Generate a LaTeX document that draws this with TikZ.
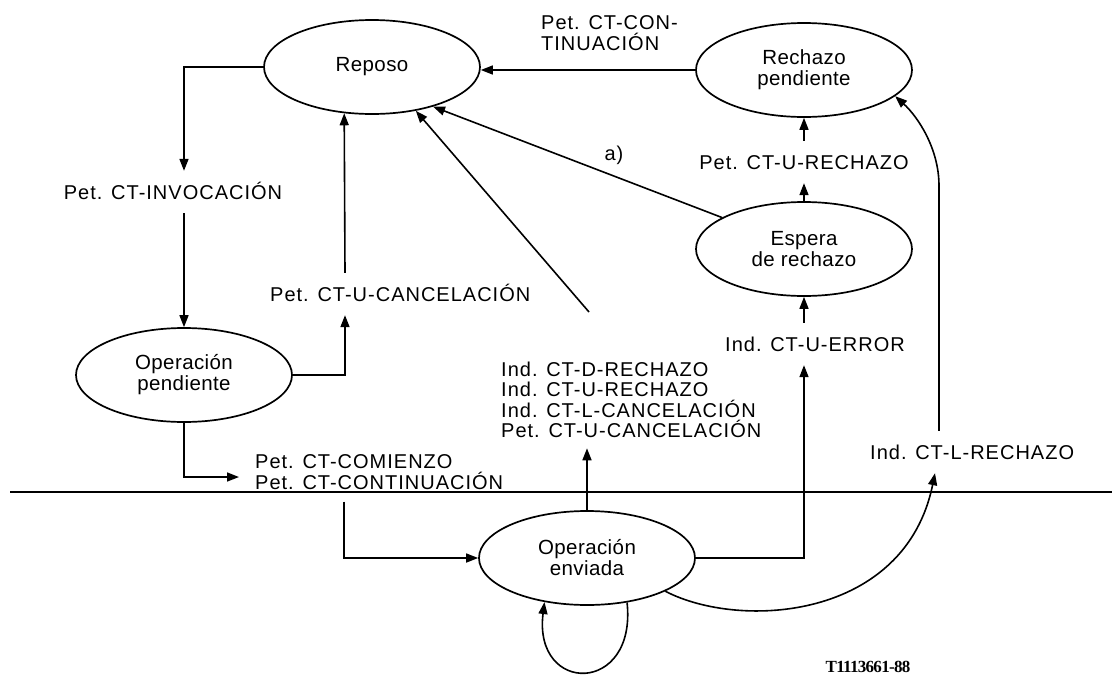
\documentclass[tikz,border=0pt]{standalone}
\usepackage{fontspec}
\setmainfont{Liberation Sans}[LetterSpace=5]
\newfontfamily\statefont{Liberation Sans}[LetterSpace=2]
\newfontfamily\codefont{Liberation Serif}[LetterSpace=-4]
\usetikzlibrary{shapes.geometric,arrows.meta}

\begin{document}
\begin{tikzpicture}[x=1pt,y=-1pt,
  state/.style={ellipse,draw,line width=1.7pt,minimum width=216pt,minimum height=94pt,
    inner sep=0pt,align=center,font=\statefont\fontsize{20.5}{21}\selectfont},
  lbl/.style={inner xsep=0pt,inner ysep=14pt,text height=14pt,text depth=0pt,
    font=\fontsize{20}{21}\selectfont},
  lblm/.style={inner xsep=0pt,inner ysep=10pt,align=left,
    font=\fontsize{20}{20.5}\selectfont},
  conn/.style={line width=1.6pt},
  arr/.style={conn,-{Triangle[length=12pt,width=9pt]}},
]
\useasboundingbox (0,0) rectangle (1112,678);

% states
\node[state] (repo) at (372,67)  {Reposo};
\node[state] (rech) at (804,70)  {Rechazo\\pendiente};
\node[state] (esp)  at (804,249) {Espera\\de rechazo};
\node[state] (opp)  at (184,375) {Operación\\pendiente};
\node[state] (ope)  at (587,558) {Operación\\enviada};

% primitives
\node[lbl] (linv) at (173,192) {Pet. CT-INVOCACIÓN};
\node[lbl,anchor=west] (lcanc) at (270,294) {Pet. CT-U-CANCELACIÓN};
\node[lblm,anchor=west] (lcont) at (541,33) {Pet. CT-CON-\\TINUACIÓN};
\node[lbl,inner ysep=0pt] (la) at (614,153) {a)};
\node[lbl] (lurech) at (804,162) {Pet. CT-U-RECHAZO};
\node[lbl,anchor=west] (luerr) at (725,344) {Ind. CT-U-ERROR};
\node[lblm,anchor=west] (lmulti) at (501,400)
  {Ind. CT-D-RECHAZO\\Ind. CT-U-RECHAZO\\Ind. CT-L-CANCELACIÓN\\Pet. CT-U-CANCELACIÓN};
\node[lblm,anchor=west,inner ysep=2pt] (lcom) at (255,472)
  {Pet. CT-COMIENZO\\Pet. CT-CONTINUACIÓN};
\node[lbl,anchor=west] (llrech) at (870,452) {Ind. CT-L-RECHAZO};
\node[font=\codefont\bfseries\fontsize{17}{17}\selectfont] (code) at (868,667) {T1113661-88};

% boundary line
\draw[line width=1.3pt] (10,492) -- (1112,492);

% transitions
\draw[arr] (repo.west) -| (opp |- linv.north);
\draw[arr] (opp |- linv.south) -- (opp.north);
\draw[arr] (opp.east) -| ([xshift=75pt]lcanc.south west);
\draw[arr] ([xshift=75pt]lcanc.north west) -- (repo.239);
\draw[arr] (rech.west) -- (repo.east |- rech.west);
\draw[arr] (esp.159) -- (repo.327);
\coordinate (free) at (589,312);
\draw[arr] (free) -- (repo.315);
\draw[arr] (esp.north) -- (lurech.south);
\draw[arr] (lurech.north) -- (rech.south);
\draw[arr] (esp.south |- luerr.north) -- (esp.south);
\draw[arr] (ope.east) -| (esp.south |- luerr.south);
\draw[arr] (ope.north) -- (ope.north |- lmulti.south);
\draw[arr] (opp.south) |- ([xshift=-16pt,yshift=-5pt]lcom.west);
\draw[arr,shorten <=10pt] ([xshift=89pt]lcom.south west) |- (ope.west);
\draw[arr] (ope.337) .. controls (740,630) and (905,620) .. ([xshift=65pt]llrech.south west);
\draw[arr] ([xshift=69pt]llrech.north west) -- ++(0,-245)
  .. controls +(0,-38) and +(22,20) .. (rech.344);
\draw[arr] (ope.312) .. controls (637,695) and (533,695) .. (ope.226);
\end{tikzpicture}
\end{document}
